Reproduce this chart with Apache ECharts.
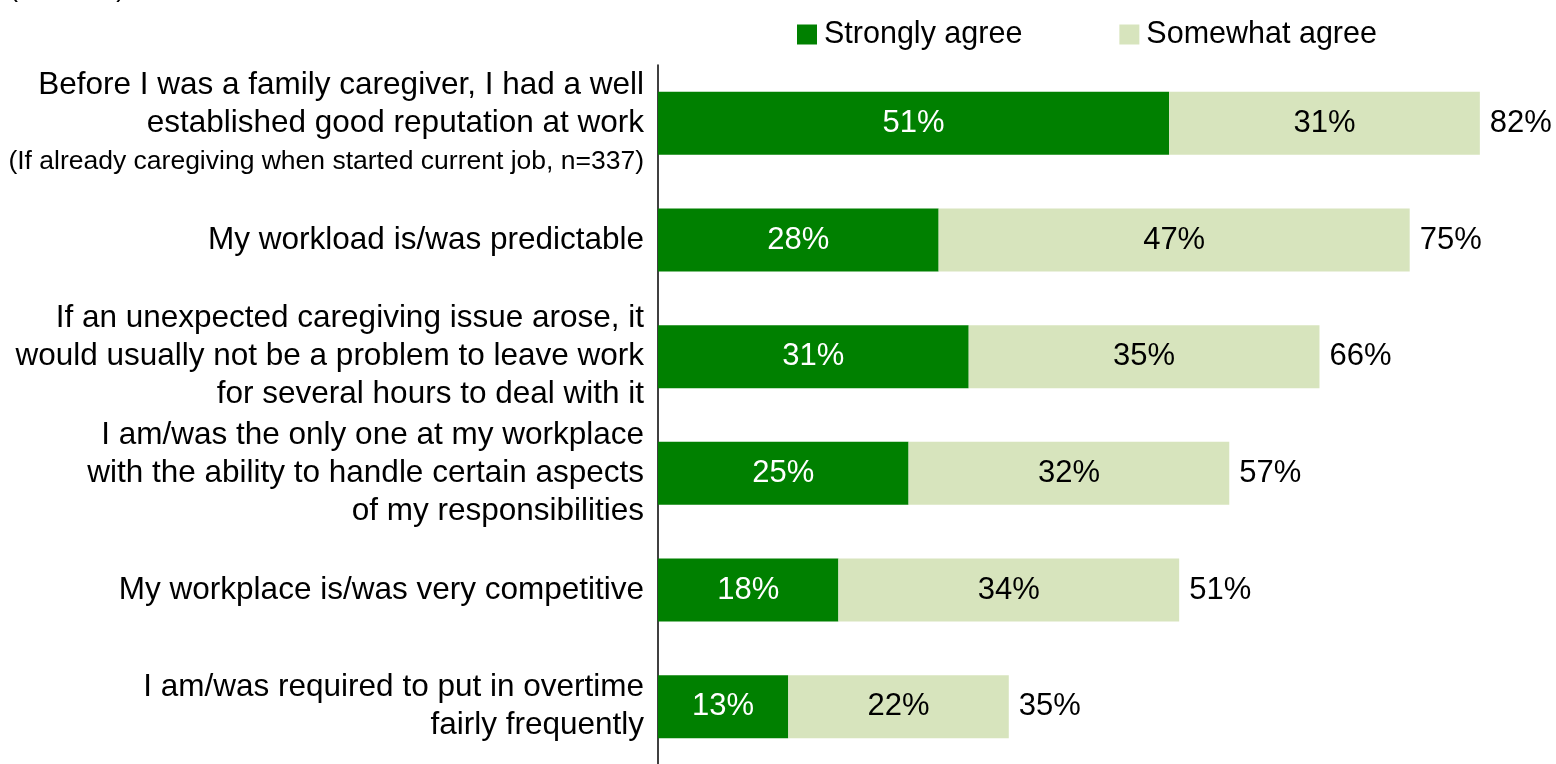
<!DOCTYPE html>
<html>
<head>
<meta charset="utf-8">
<style>
  html, body { margin: 0; padding: 0; background: #fff; }
  #chart { width: 1556px; height: 764px; }
</style>
<script src="https://cdn.jsdelivr.net/npm/echarts@6/dist/echarts.min.js"></script>
</head>
<body>
<div id="chart"></div>
<script>
// Work situation statements, top to bottom
const categories = [
  'Before I was a family caregiver, I had a well\nestablished good reputation at work',
  'My workload is/was predictable',
  'If an unexpected caregiving issue arose, it\nwould usually not be a problem to leave work\nfor several hours to deal with it',
  'I am/was the only one at my workplace\nwith the ability to handle certain aspects\nof my responsibilities',
  'My workplace is/was very competitive',
  'I am/was required to put in overtime\nfairly frequently'
];
// Extra note shown under a statement (empty when none)
const notes = ['(If already caregiving when started current job, n=337)', '', '', '', '', ''];

const seriesNames = ['Strongly agree', 'Somewhat agree'];
const stronglyAgree = [51, 28, 31, 25, 18, 13];
const somewhatAgree = [31, 47, 35, 32, 34, 22];
const totalAgree = [82, 75, 66, 57, 51, 35];

const sampleNote = '(n=1,000)';

const FONT = "'Liberation Sans', Arial, sans-serif";
const DARK = '#008000';
const LIGHT = '#d7e4bd';

const chart = echarts.init(document.getElementById('chart'));

chart.setOption({
  animation: false,
  title: {
    text: sampleNote,
    left: 4,
    top: -30,
    textStyle: { fontFamily: FONT, fontSize: 27, fontWeight: 'normal', color: '#000' }
  },
  legend: {
    data: seriesNames,
    left: 792,
    top: 14,
    icon: 'rect',
    itemWidth: 20,
    itemHeight: 20,
    itemGap: 97,
    selectedMode: false,
    textStyle: { fontFamily: FONT, fontSize: 30.5, color: '#000', padding: [0, 0, 0, 2] }
  },
  grid: { left: 658, right: 6, top: 65, height: 700, containLabel: false, outerBoundsMode: 'none' },
  xAxis: {
    type: 'value',
    min: 0,
    max: 89,
    show: false
  },
  yAxis: {
    type: 'category',
    inverse: true,
    data: categories,
    axisLine: { show: true, lineStyle: { color: '#000', width: 1.5 } },
    axisTick: { show: false },
    axisLabel: {
      margin: 14,
      align: 'right',
      fontFamily: FONT,
      fontSize: 31.5,
      lineHeight: 38,
      color: '#000',
      formatter: function (value, index) {
        return notes[index] ? value + '\n{note|' + notes[index] + '}' : value;
      },
      rich: {
        note: { fontFamily: FONT, fontSize: 26.5, lineHeight: 38, color: '#000' }
      }
    }
  },
  series: [
    {
      name: seriesNames[0],
      type: 'bar',
      stack: 'agree',
      barWidth: 63,
      data: stronglyAgree,
      itemStyle: { color: DARK },
      label: {
        show: true,
        position: 'inside',
        formatter: '{c}%',
        fontFamily: FONT,
        fontSize: 31,
        color: '#fff'
      }
    },
    {
      name: seriesNames[1],
      type: 'bar',
      stack: 'agree',
      barWidth: 63,
      data: somewhatAgree,
      itemStyle: { color: LIGHT },
      label: {
        show: true,
        position: 'inside',
        formatter: '{c}%',
        fontFamily: FONT,
        fontSize: 31,
        color: '#000'
      }
    },
    {
      // zero-width cap at the end of each stack carrying the total
      name: 'Total',
      type: 'bar',
      stack: 'agree',
      barWidth: 63,
      data: totalAgree.map(() => 0),
      itemStyle: { color: 'transparent' },
      label: {
        show: true,
        position: 'right',
        distance: 10,
        formatter: (p) => totalAgree[p.dataIndex] + '%',
        fontFamily: FONT,
        fontSize: 31,
        color: '#000'
      }
    }
  ]
});
</script>
</body>
</html>
